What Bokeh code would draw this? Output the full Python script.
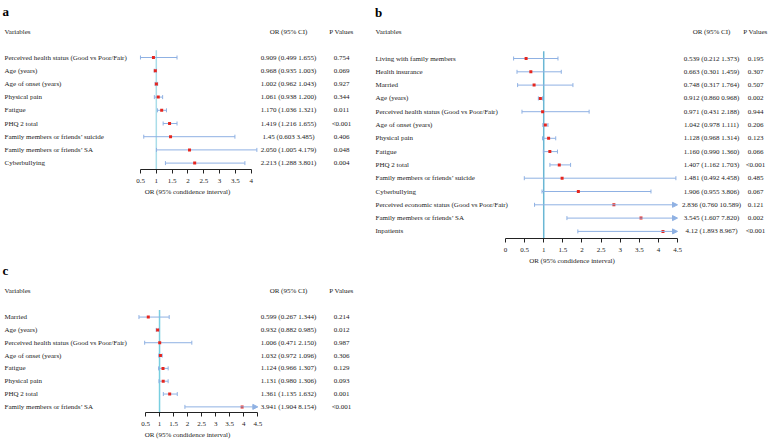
import math
from bokeh.plotting import figure
from bokeh.layouts import row, column
from bokeh.models import (Range1d, LinearAxis, FixedTicker, CustomJSTickFormatter,
                          Arrow, NormalHead, ColumnDataSource)
from bokeh.core.properties import value
from bokeh.embed import file_html
from bokeh.resources import INLINE

FONT = "Liberation Serif"
TXT = "#222222"
CI_COL = "#8fb1e3"
PT_COL = "#e5261f"

# ---------------- data ----------------
vars_a = ["Perceived health status (Good vs Poor/Fair)", "Age (years)", "Age of onset (years)",
          "Physical pain", "Fatigue", "PHQ  2 total", "Family members or friends\u2019 suicide",
          "Family members or friends\u2019 SA", "Cyberbullying"]
or_a = ["0.909", "0.968", "1.002", "1.061", "1.170", "1.419", "1.45", "2.050", "2.213"]
lo_a = ["0.499", "0.935", "0.962", "0.938", "1.036", "1.216", "0.603", "1.005", "1.288"]
hi_a = ["1.655", "1.003", "1.043", "1.200", "1.321", "1.655", "3.485", "4.179", "3.801"]
p_a = ["0.754", "0.069", "0.927", "0.344", "0.011", "<0.001", "0.406", "0.048", "0.004"]
ticks_a = [0.5, 1, 1.5, 2, 2.5, 3, 3.5, 4]

vars_b = ["Living with family members", "Health insurance", "Married", "Age (years)",
          "Perceived health status (Good vs Poor/Fair)", "Age of onset (years)", "Physical pain",
          "Fatigue", "PHQ  2 total", "Family members or friends\u2019 suicide", "Cyberbullying",
          "Perceived economic status (Good vs Poor/Fair)", "Family members or friends\u2019 SA",
          "Inpatients"]
or_b = ["0.539", "0.663", "0.748", "0.912", "0.971", "1.042", "1.128", "1.160", "1.407",
        "1.481", "1.906", "2.836", "3.545", "4.12"]
lo_b = ["0.212", "0.301", "0.317", "0.860", "0.431", "0.978", "0.968", "0.990", "1.162",
        "0.492", "0.955", "0.760", "1.607", "1.893"]
hi_b = ["1.373", "1.459", "1.764", "0.968", "2.188", "1.111", "1.314", "1.360", "1.703",
        "4.458", "3.806", "10.589", "7.820", "8.967"]
p_b = ["0.195", "0.307", "0.507", "0.002", "0.944", "0.206", "0.123", "0.066", "<0.001",
       "0.485", "0.067", "0.121", "0.002", "<0.001"]
ticks_b = [0, 0.5, 1, 1.5, 2, 2.5, 3, 3.5, 4, 4.5]

vars_c = ["Married", "Age (years)", "Perceived health status (Good vs Poor/Fair)",
          "Age of onset (years)", "Fatigue", "Physical pain", "PHQ  2 total",
          "Family members or friends\u2019 SA"]
or_c = ["0.599", "0.932", "1.006", "1.032", "1.124", "1.131", "1.361", "3.941"]
lo_c = ["0.267", "0.882", "0.471", "0.972", "0.966", "0.980", "1.135", "1.904"]
hi_c = ["1.344", "0.985", "2.150", "1.096", "1.307", "1.306", "1.632", "8.154"]
p_c = ["0.214", "0.012", "0.987", "0.306", "0.129", "0.093", "0.001", "<0.001"]
ticks_c = [0.5, 1, 1.5, 2, 2.5, 3, 3.5, 4, 4.5]

AXIS_TITLE = "OR (95% condidence interval)"


def panel(letter, names, ors, los, his, ps, ticks, W, H, frame_h, row0, step,
          ax_px, letter_x, letter_y, lab_x, head_y, or_cx, p_cx, ref_col, clip_arrow):
    t0, t1 = ticks[0], ticks[-1]
    k = (ax_px[1] - ax_px[0]) / (t1 - t0)
    xs = t0 - ax_px[0] / k
    xr = Range1d(xs, xs + W / k)
    y_top = (0 - row0) / step
    y_bot = (frame_h - row0) / step
    yr = Range1d(y_bot, y_top)

    p = figure(width=W, height=H, x_range=xr, y_range=yr, output_backend="svg",
               toolbar_location=None, x_axis_location=None, y_axis_location=None,
               min_border_left=0, min_border_right=0, min_border_top=0,
               min_border_bottom=H - frame_h)
    p.outline_line_color = None
    p.grid.visible = False
    p.background_fill_color = "white"
    p.border_fill_color = "white"
    p.extra_x_ranges = {"px": Range1d(0, W)}
    p.extra_y_ranges = {"py": Range1d(frame_h, 0)}

    n = len(names)
    ys = list(range(n))
    orv = [float(v) for v in ors]
    lov = [float(v) for v in los]
    hiv = [float(v) for v in his]
    arrow_rows = [i for i in ys if clip_arrow and hiv[i] > t1]
    seg_rows = [i for i in ys if i not in arrow_rows]

    # reference line at OR = 1
    p.segment(x0=[1], y0=[-0.55], x1=[1], y1=[y_bot], line_color=ref_col, line_width=1.5)

    seg = ColumnDataSource(dict(y=[ys[i] for i in seg_rows], lo=[lov[i] for i in seg_rows],
                                hi=[hiv[i] for i in seg_rows]))
    p.segment(x0="lo", y0="y", x1="hi", y1="y", source=seg, line_color=CI_COL, line_width=1)
    p.scatter(x="hi", y="y", source=seg, marker="dash", angle=math.pi / 2, size=4,
              line_color=CI_COL, line_width=1)
    allsrc = ColumnDataSource(dict(y=ys, lo=lov, orv=orv))
    p.scatter(x="lo", y="y", source=allsrc, marker="dash", angle=math.pi / 2, size=4,
              line_color=CI_COL, line_width=1)
    if arrow_rows:
        asrc = ColumnDataSource(dict(y=[ys[i] for i in arrow_rows],
                                     lo=[lov[i] for i in arrow_rows],
                                     xe=[t1 for i in arrow_rows]))
        p.add_layout(Arrow(end=NormalHead(size=5, fill_color=CI_COL, line_color=CI_COL),
                           source=asrc, x_start="lo", y_start="y", x_end="xe", y_end="y",
                           line_color=CI_COL, line_width=1))
    p.scatter(x="orv", y="y", source=allsrc, marker="square", size=3,
              fill_color=PT_COL, line_color=None)

    tf = value(FONT)
    # letter and headers
    p.text(x=[letter_x], y=[letter_y], text=[letter], x_range_name="px", y_range_name="py",
           text_font=tf, text_font_size="13px", text_font_style="bold",
           text_baseline="alphabetic", text_align="left", text_color="black")
    p.text(x=[lab_x, or_cx, p_cx], y=[head_y] * 3, text=["Variables", "OR (95% CI)", "P Values"],
           x_range_name="px", y_range_name="py", text_font=tf, text_font_size="7px",
           text_baseline="middle", text_align=["left", "center", "center"], text_color=TXT)
    # row labels
    p.text(x=[lab_x] * n, y=ys, text=names, x_range_name="px", text_font=tf,
           text_font_size="7px", text_baseline="middle", text_align="left", text_color=TXT)
    ci_txt = [f"{ors[i]} ({los[i]} {his[i]})" for i in ys]
    p.text(x=[or_cx] * n, y=ys, text=ci_txt, x_range_name="px", text_font=tf,
           text_font_size="7px", text_baseline="middle", text_align="center", text_color=TXT)
    p.text(x=[p_cx] * n, y=ys, text=ps, x_range_name="px", text_font=tf,
           text_font_size="7px", text_baseline="middle", text_align="center", text_color=TXT)

    ax = LinearAxis(ticker=FixedTicker(ticks=ticks), bounds=(t0, t1),
                    formatter=CustomJSTickFormatter(code="return String(tick)"),
                    axis_label=AXIS_TITLE)
    ax.axis_line_color = "#222222"
    ax.major_tick_line_color = "#222222"
    ax.major_tick_in = 0
    ax.major_tick_out = 4
    ax.minor_tick_line_color = None
    ax.major_label_text_font = FONT
    ax.major_label_text_font_size = "7px"
    ax.major_label_text_color = TXT
    ax.major_label_standoff = 5
    ax.axis_label_text_font = FONT
    ax.axis_label_text_font_size = "7px"
    ax.axis_label_text_font_style = "normal"
    ax.axis_label_text_color = TXT
    ax.axis_label_standoff = 2
    p.add_layout(ax, "below")
    return p


pa = panel("a", vars_a, or_a, lo_a, hi_a, p_a, ticks_a, W=374, H=262, frame_h=169,
           row0=57, step=13.2, ax_px=(140, 250.7), letter_x=2, letter_y=11, lab_x=4,
           head_y=31, or_cx=288, p_cx=341, ref_col="#a9dde9", clip_arrow=False)
pb = panel("b", vars_b, or_b, lo_b, hi_b, p_b, ticks_b, W=395, H=441, frame_h=238,
           row0=58, step=13.3, ax_px=(131, 303), letter_x=0.5, letter_y=12, lab_x=1,
           head_y=31, or_cx=337, p_cx=381, ref_col="#6ab7d4", clip_arrow=True)
pc = panel("c", vars_c, or_c, lo_c, hi_c, p_c, ticks_c, W=374, H=179, frame_h=152,
           row0=55.3, step=13.0, ax_px=(145, 257.3), letter_x=2, letter_y=8, lab_x=4,
           head_y=29, or_cx=288, p_cx=341, ref_col="#78cfe0", clip_arrow=True)

layout = row(column(pa, pc), pb)
open("out.html", "w").write(file_html(layout, INLINE))
